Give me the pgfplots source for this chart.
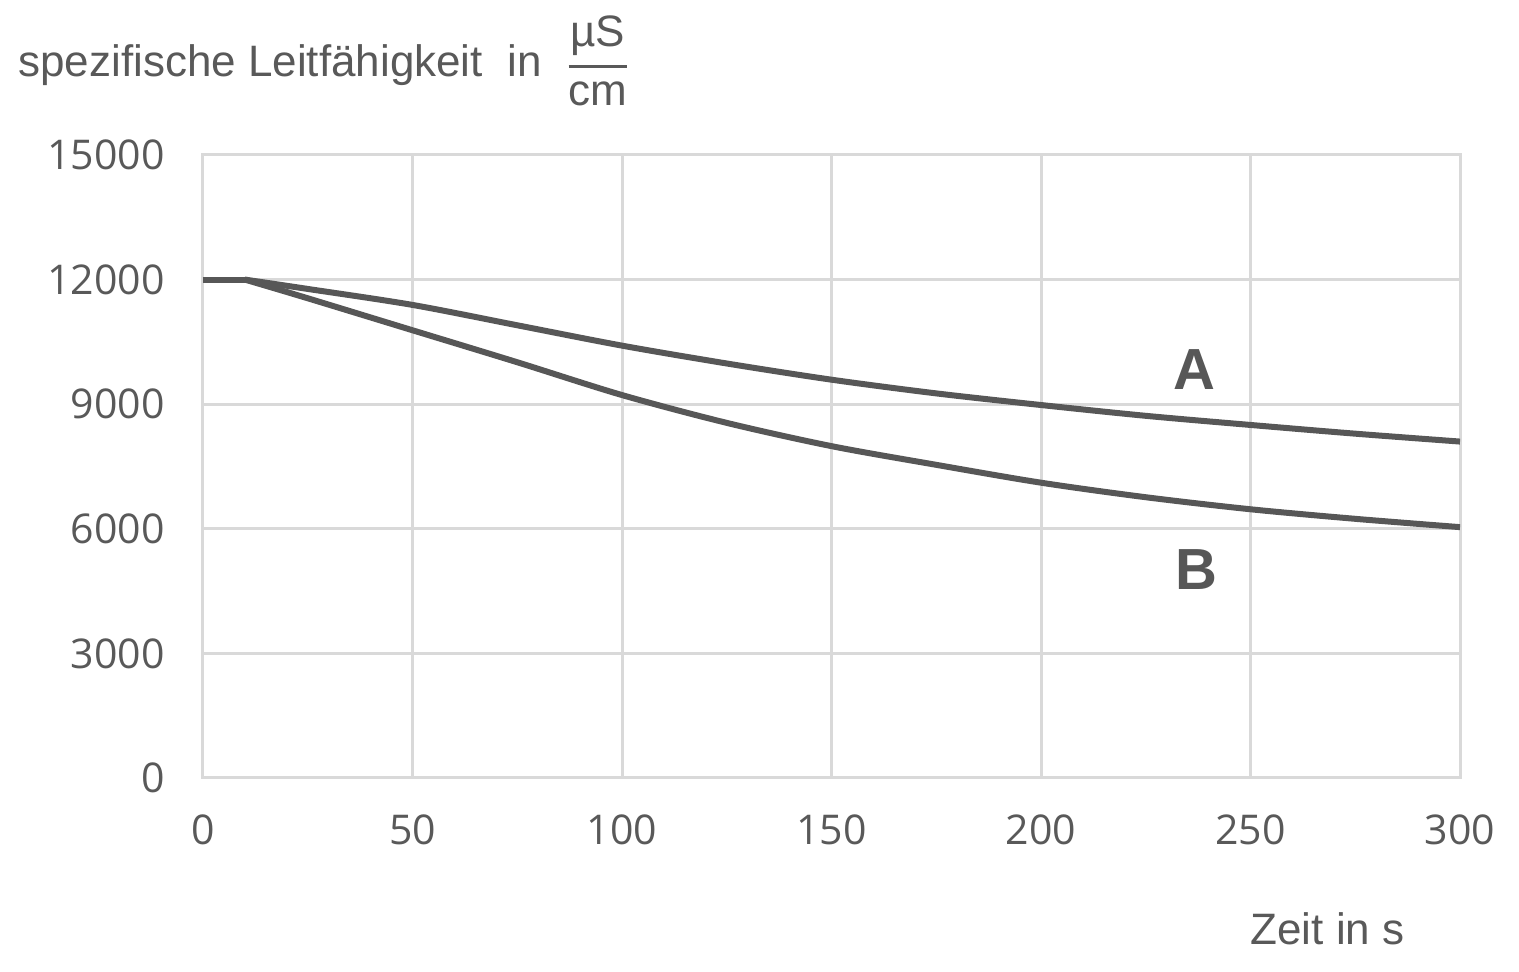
\documentclass[border=0pt]{standalone}
\usepackage{amsmath}
\usepackage{fontspec}
\setmainfont{Liberation Sans}
\newfontfamily\tickfont{Open Sans}
\usepackage{pgfplots}
\pgfplotsset{compat=1.18}
\definecolor{txt}{HTML}{595959}
\definecolor{gridc}{HTML}{D9D9D9}
\definecolor{linec}{HTML}{575757}
\pgfplotstableread{
x y
10 12000
25 11775
50 11390
75 10900
100 10410
125 9980
150 9590
175 9260
200 8980
225 8720
250 8500
275 8290
300 8100
}\dataA
\pgfplotstableread{
x y
10 12000
25 11550
50 10780
75 10010
100 9220
125 8550
150 7990
175 7540
200 7110
225 6760
250 6470
275 6240
300 6040
}\dataB
\begin{document}
\begin{tikzpicture}
\path[use as bounding box] (-101.5pt,-97pt) rectangle (658pt,389pt);
\begin{axis}[
  at={(0,0)}, anchor=south west,
  scale only axis,
  width=628.5pt, height=311.5pt,
  xmin=0, xmax=300, ymin=0, ymax=15000,
  xtick={0,50,...,300}, ytick={0,3000,...,15000},
  scaled y ticks=false,
  grid=major,
  major grid style={gridc, line width=1.5pt},
  axis line style={gridc, line width=1.5pt},
  major tick length=0pt,
  /pgf/number format/1000 sep={},
  /pgf/number format/assume math mode=true,
  tick label style={font=\fontsize{20.5}{24}\tickfont, text=txt},
  yticklabel style={inner sep=0pt, anchor=east, xshift=-19pt},
  xticklabel style={inner sep=0pt, anchor=north, yshift=-18pt},
  clip=false,
]
\addplot[linec, line width=3pt] coordinates {(0,12000) (10,12000)};
\addplot[linec, line width=3pt, line join=round, smooth, tension=0.5] table[x=x,y=y] {\dataA};
\addplot[linec, line width=3pt, line join=round, smooth, tension=0.5] table[x=x,y=y] {\dataB};
\node[text=linec, font=\fontsize{29}{34}\selectfont\bfseries] at (axis cs:236.5,9830) {A};
\node[text=linec, font=\fontsize{29}{34}\selectfont\bfseries] at (axis cs:237,5020) {B};
\end{axis}
\node[anchor=base west, inner sep=0pt, text=txt, font=\fontsize{22}{26}\selectfont] at (-92.5pt,350.5pt)
  {spezifische Leitfähigkeit\ \ in\ \ $\genfrac{}{}{1.5pt}{0}{\text{µS}}{\text{cm}}$};
\node[anchor=base east, inner sep=0pt, text=txt, font=\fontsize{22}{26}\selectfont] at (601pt,-83.5pt) {Zeit in s};
\end{tikzpicture}
\end{document}
